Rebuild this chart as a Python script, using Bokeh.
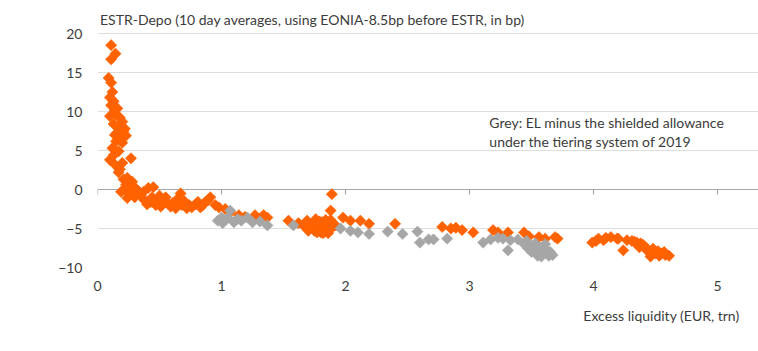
import math
from bokeh.plotting import figure
from bokeh.models import Label, FixedTicker, Grid, Title
from bokeh.embed import file_html
from bokeh.resources import INLINE

# ---- data ----
orange_x = [0.11, 0.145, 0.11, 0.09, 0.11, 0.12, 0.10, 0.13, 0.11, 0.14, 0.10, 0.15, 0.18, 0.20, 0.13,
            0.17, 0.21, 0.14, 0.19, 0.23, 0.15, 0.20, 0.12, 0.17, 0.27, 0.10, 0.14, 0.18, 0.17, 0.21,
            0.24, 0.28, 0.23, 0.19, 0.26, 0.31, 0.24, 0.29, 0.35, 0.33, 0.40, 0.41, 0.45, 0.44, 0.48,
            0.51, 0.55, 0.57, 0.61, 0.64, 0.67, 0.68, 0.72, 0.76, 0.79, 0.81, 0.83, 0.87, 0.91, 0.95,
            0.98, 1.03, 1.07, 1.14, 1.19, 1.27, 1.31, 1.34, 1.37, 1.54, 1.62, 1.66, 1.69, 1.71, 1.73,
            1.75, 1.76, 1.78, 1.80, 1.81, 1.83, 1.85, 1.86, 1.88, 1.89, 1.88, 1.89, 1.92, 1.98, 2.04,
            2.12, 2.19, 2.40, 2.78, 2.85, 2.89, 2.94, 3.03, 3.19, 3.23, 3.31, 3.44, 3.48, 3.56, 3.61,
            3.69, 3.71, 3.99, 4.04, 4.10, 4.14, 4.19, 4.24, 4.27, 4.31, 4.35, 4.38, 4.40, 4.43, 4.46,
            4.48, 4.52, 4.55, 4.58, 4.61,
            0.16, 0.19, 0.16, 0.22, 0.13, 0.20,
            0.22, 0.27, 0.30, 0.37, 0.38, 0.43, 0.47, 0.50, 0.53, 0.59, 0.63, 0.66, 0.70, 0.74, 0.85, 0.89,
            1.70, 1.74, 1.77, 1.79, 1.82, 1.84, 1.87,
            4.02, 4.08, 4.20, 4.33, 4.37, 4.42, 4.45, 4.50, 4.53, 4.57]
orange_y = [18.5, 17.4, 16.7, 14.3, 13.7, 12.5, 11.8, 11.3, 10.8, 10.2, 9.4, 9.6, 9.2, 8.7, 8.4,
            7.9, 7.5, 7.0, 6.8, 6.9, 6.2, 6.0, 5.3, 4.9, 4.0, 3.8, 3.2, 2.6, 2.2, 1.3,
            1.5, 1.0, 0.6, -0.3, 0.2, 0.1, -1.1, -0.6, -0.8, -0.2, -1.9, 0.2, 0.3, -1.0, -1.4,
            -2.2, -1.0, -1.8, -1.7, -1.3, -0.5, -2.0, -2.4, -2.3, -1.9, -1.6, -2.3, -1.6, -1.0, -2.0,
            -2.3, -2.5, -2.9, -3.3, -3.5, -3.3, -3.7, -3.3, -3.6, -4.0, -4.3, -4.6, -4.0, -4.9, -4.4,
            -5.3, -3.8, -4.8, -5.5, -4.2, -5.0, -4.5, -5.6, -3.9, -4.9, -2.7, -0.6, -4.6, -3.6, -4.0,
            -4.0, -4.4, -4.4, -4.8, -5.0, -4.9, -5.2, -5.5, -5.2, -5.5, -5.5, -5.5, -6.0, -6.1, -6.3,
            -6.1, -6.3, -6.8, -6.3, -6.2, -6.1, -6.3, -7.8, -6.5, -6.6, -6.8, -6.9, -7.1, -7.8, -8.6,
            -7.6, -7.9, -8.2, -8.4, -8.5,
            10.4, 8.1, 7.3, 7.8, 4.4, 3.4,
            0.0, -0.4, -1.0, -0.3, -1.4, -1.6, -2.0, -0.8, -1.6, -2.2, -2.4, -1.9, -1.5, -2.0, -2.0, -1.4,
            -5.3, -5.0, -5.5, -4.1, -5.6, -3.9, -5.1,
            -6.6, -6.5, -6.3, -6.7, -7.4, -7.4, -8.0, -8.2, -8.5, -8.0]

grey_x = [0.97, 1.00, 1.01, 1.05, 1.07, 1.10, 1.13, 1.21, 1.25, 1.31, 1.37, 1.58, 1.96, 2.04, 2.10,
          2.19, 2.34, 2.46, 2.58, 2.60, 2.67, 2.71, 2.82, 3.11, 3.17, 3.23, 3.27, 3.31, 3.33, 3.39,
          3.44, 3.46, 3.49, 3.51, 3.53, 3.55, 3.57, 3.60, 3.62, 3.64, 3.67,
          1.03, 1.16, 3.50, 3.58, 3.61, 3.65, 3.55, 3.47]
grey_y = [-4.0, -3.6, -4.3, -3.6, -2.7, -4.2, -3.8, -3.6, -4.2, -4.1, -4.6, -4.6, -5.0, -5.3, -5.5,
          -5.7, -5.4, -5.7, -5.4, -6.8, -6.4, -6.4, -6.3, -6.8, -6.4, -6.2, -6.3, -7.8, -6.5, -6.4,
          -7.0, -6.6, -7.2, -7.8, -6.9, -8.5, -7.5, -8.2, -7.8, -8.5, -8.4,
          -3.9, -4.0, -8.0, -8.6, -7.0, -8.0, -7.6, -7.5]

x_ticks = [0, 1, 2, 3, 4, 5]
y_ticks = [-10, -5, 0, 5, 10, 15, 20]

title_text = "ESTR-Depo (10 day averages, using EONIA-8.5bp before ESTR, in bp)"
note_lines = ["Grey: EL minus the shielded allowance", "under the tiering system of 2019"]
x_label_text = "Excess liquidity (EUR, trn)"

ORANGE = "#FF6200"
GREY = "#A6A6A6"
TEXT = "#3C3C3C"
FONT = "Lato"

# frame: left edge at x=0, right edge = canvas edge, top = canvas top, bottom at y=-10
p = figure(width=758, height=351, output_backend="svg", toolbar_location=None,
           x_range=(0, 661 / 124), y_range=(-10, -10 + 267 / 7.8),
           min_border_left=97, min_border_right=0, min_border_top=0, min_border_bottom=84)
p.outline_line_color = None
p.background_fill_color = "white"
p.border_fill_color = "white"

p.xgrid.visible = False
p.ygrid.ticker = FixedTicker(ticks=[t for t in y_ticks if t != 0])
p.ygrid.grid_line_color = "#DEDEDE"
p.ygrid.grid_line_width = 1
p.ygrid.bounds = (x_ticks[0], x_ticks[-1])

# zero line acting as the x axis
p.add_layout(Grid(dimension=1, ticker=FixedTicker(ticks=[0]), bounds=(x_ticks[0], x_ticks[-1]),
                  grid_line_color="#A8A8A8", grid_line_width=1.2))
p.segment(x0=x_ticks, y0=[0] * len(x_ticks), x1=x_ticks, y1=[-0.65] * len(x_ticks),
          line_color="#A8A8A8", line_width=1.2)

p.xaxis.ticker = FixedTicker(ticks=x_ticks)
p.yaxis.ticker = FixedTicker(ticks=y_ticks)
for ax in (p.xaxis, p.yaxis):
    ax.axis_line_color = None
    ax.major_tick_line_color = None
    ax.minor_tick_line_color = None
    ax.major_tick_out = 0
    ax.major_tick_in = 0
    ax.major_label_text_font = FONT
    ax.major_label_text_font_size = "14px"
    ax.major_label_text_color = TEXT
p.xaxis.major_label_standoff = 13
p.yaxis.major_label_standoff = 15

p.scatter(orange_x, orange_y, marker="square", angle=math.pi / 4, size=8,
          fill_color=ORANGE, line_color=ORANGE, line_width=0.5)
p.scatter(grey_x, grey_y, marker="square", angle=math.pi / 4, size=8,
          fill_color=GREY, line_color=GREY, line_width=0.5)

p.add_layout(Label(x=0.02, y=21.8, text=title_text, text_font=FONT, text_font_size="14px",
                   text_color=TEXT, text_baseline="middle", text_align="left"))
p.add_layout(Label(x=3.16, y=8.6, text=note_lines[0], text_font=FONT, text_font_size="14px",
                   text_color=TEXT, text_baseline="middle", text_align="left"))
p.add_layout(Label(x=3.16, y=6.15, text=note_lines[1], text_font=FONT, text_font_size="14px",
                   text_color=TEXT, text_baseline="middle", text_align="left"))

p.add_layout(Title(text=x_label_text, align="right", offset=19, text_font=FONT,
                   text_font_size="14px", text_color=TEXT, text_font_style="normal",
                   standoff=22), "below")

open("out.html", "w").write(file_html(p, INLINE))
